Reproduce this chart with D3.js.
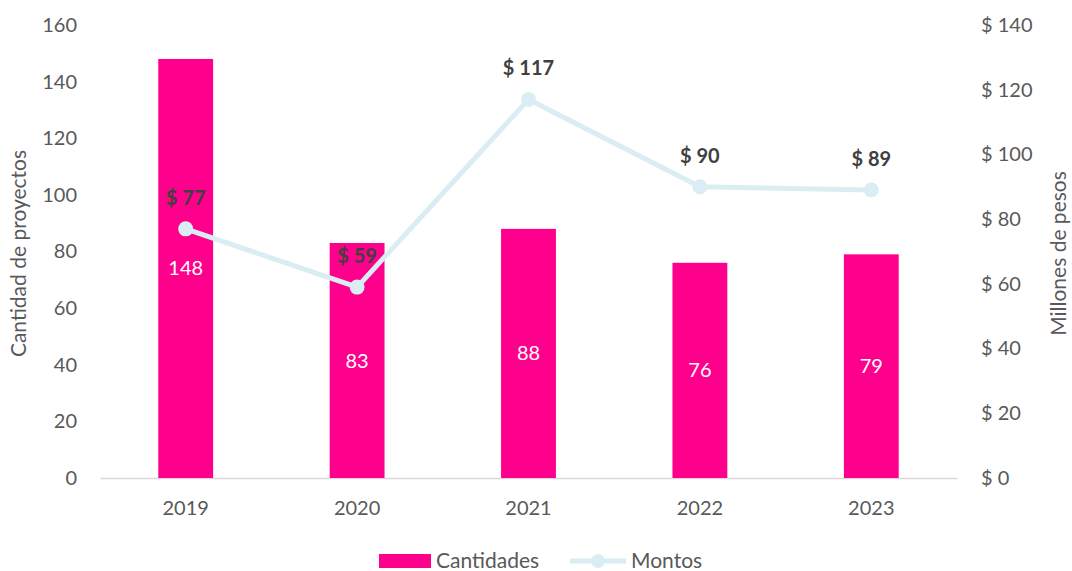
<!DOCTYPE html>
<html>
<head>
<meta charset="utf-8">
<script src="https://cdn.jsdelivr.net/npm/d3@7"></script>
<style>
  body { margin: 0; background: #fff; }
  svg text { font-family: Lato, "Open Sans", sans-serif; }
</style>
</head>
<body>
<div id="chart"></div>
<script>
// data
const years = ["2019", "2020", "2021", "2022", "2023"];
const cantidades = [148, 83, 88, 76, 79];
const montos = [77, 59, 117, 90, 89];
const leftTicks = [0, 20, 40, 60, 80, 100, 120, 140, 160];
const rightTicks = [0, 20, 40, 60, 80, 100, 120, 140];

const pink = "#ff008c";
const lightBlue = "#daedf3";
const textGray = "#595959";
const labelDark = "#404040";

const width = 1072;
const height = 571;
const margin = { top: 25, right: 115, bottom: 93, left: 100 };

const svg = d3.select("#chart")
    .append("svg")
    .attr("width", width)
    .attr("height", height)
    .style("display", "block");

const x = d3.scaleBand()
    .domain(years)
    .range([margin.left, width - margin.right])
    .paddingInner(0.68)
    .paddingOuter(0.34);

const yLeft = d3.scaleLinear()
    .domain([0, 160])
    .range([height - margin.bottom, margin.top]);

const yRight = d3.scaleLinear()
    .domain([0, 140])
    .range([height - margin.bottom, margin.top]);

// left axis
const leftAxis = svg.append("g")
    .attr("transform", `translate(${margin.left - 23},0)`)
    .call(d3.axisLeft(yLeft).tickValues(leftTicks).tickSize(0).tickPadding(0));
leftAxis.select(".domain").remove();
leftAxis.selectAll("text")
    .attr("fill", textGray)
    .style("font-size", "20px");

// right axis
const rightAxis = svg.append("g")
    .attr("transform", `translate(${width - margin.right + 24},0)`)
    .call(d3.axisRight(yRight).tickValues(rightTicks).tickSize(0).tickPadding(0)
        .tickFormat(d => "$ " + d));
rightAxis.select(".domain").remove();
rightAxis.selectAll("text")
    .attr("fill", textGray)
    .style("font-size", "20px");

// bottom axis
const bottomAxis = svg.append("g")
    .attr("transform", `translate(0,${height - margin.bottom})`)
    .call(d3.axisBottom(x).tickSize(0).tickPadding(23));
bottomAxis.select(".domain")
    .attr("stroke", "#d9d9d9")
    .attr("stroke-width", 1.5);
bottomAxis.selectAll("text")
    .attr("fill", textGray)
    .style("font-size", "20px");

// bars
svg.append("g")
    .selectAll("rect")
    .data(cantidades)
    .join("rect")
    .attr("x", (d, i) => x(years[i]))
    .attr("y", d => yLeft(d))
    .attr("width", x.bandwidth())
    .attr("height", d => yLeft(0) - yLeft(d))
    .attr("fill", pink);

// bar labels
svg.append("g")
    .selectAll("text")
    .data(cantidades)
    .join("text")
    .attr("x", (d, i) => x(years[i]) + x.bandwidth() / 2)
    .attr("y", d => (yLeft(d) + yLeft(0)) / 2)
    .attr("dy", "0.35em")
    .attr("text-anchor", "middle")
    .attr("fill", "#fff")
    .style("font-size", "20px")
    .text(d => d);

// line
const line = d3.line()
    .x((d, i) => x(years[i]) + x.bandwidth() / 2)
    .y(d => yRight(d));

svg.append("path")
    .datum(montos)
    .attr("d", line)
    .attr("fill", "none")
    .attr("stroke", lightBlue)
    .attr("stroke-width", 5);

svg.append("g")
    .selectAll("circle")
    .data(montos)
    .join("circle")
    .attr("cx", (d, i) => x(years[i]) + x.bandwidth() / 2)
    .attr("cy", d => yRight(d))
    .attr("r", 7.5)
    .attr("fill", lightBlue);

// line labels
svg.append("g")
    .selectAll("text")
    .data(montos)
    .join("text")
    .attr("x", (d, i) => x(years[i]) + x.bandwidth() / 2)
    .attr("y", d => yRight(d) - 24)
    .attr("text-anchor", "middle")
    .attr("fill", labelDark)
    .style("font-size", "20px")
    .style("font-weight", "bold")
    .text(d => "$ " + d);

// axis titles
svg.append("text")
    .attr("transform", `translate(26,${(margin.top + height - margin.bottom) / 2 + 2}) rotate(-90)`)
    .attr("text-anchor", "middle")
    .attr("fill", textGray)
    .style("font-size", "21px")
    .text("Cantidad de proyectos");

svg.append("text")
    .attr("transform", `translate(1066,${(margin.top + height - margin.bottom) / 2 + 2}) rotate(-90)`)
    .attr("text-anchor", "middle")
    .attr("fill", textGray)
    .style("font-size", "21px")
    .text("Millones de pesos");

// legend
const legend = svg.append("g").attr("transform", "translate(379,561)");
legend.append("rect")
    .attr("x", 0).attr("y", -7)
    .attr("width", 52).attr("height", 14)
    .attr("fill", pink);
legend.append("text")
    .attr("x", 57).attr("dy", "0.35em")
    .attr("fill", textGray)
    .style("font-size", "21px")
    .text("Cantidades");
legend.append("line")
    .attr("x1", 191).attr("x2", 247)
    .attr("stroke", lightBlue).attr("stroke-width", 5);
legend.append("circle")
    .attr("cx", 219).attr("r", 7)
    .attr("fill", lightBlue);
legend.append("text")
    .attr("x", 252).attr("dy", "0.35em")
    .attr("fill", textGray)
    .style("font-size", "21px")
    .text("Montos");
</script>
</body>
</html>
